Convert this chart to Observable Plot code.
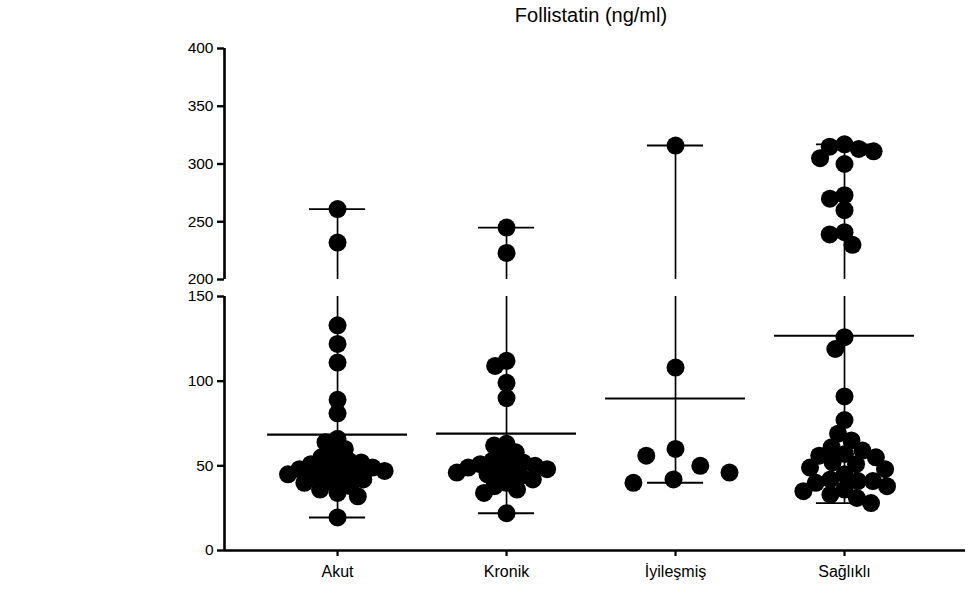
<!DOCTYPE html>
<html><head><meta charset="utf-8">
<script src="https://cdn.jsdelivr.net/npm/d3@7"></script>
<script src="https://cdn.jsdelivr.net/npm/@observablehq/plot@0.6"></script>
<style>
body{margin:0;background:#fff;font-family:"Liberation Sans",Arial,sans-serif;}
#wrap{position:relative;width:979px;height:603px;overflow:hidden;}
#title{position:absolute;left:591px;top:0;transform:translateX(-50%);height:30px;line-height:30px;font-size:20px;white-space:nowrap;color:#000;}
#chart{position:absolute;left:0;top:30px;}
</style></head><body>
<div id="wrap"><div id="title">Follistatin (ng/ml)</div><div id="chart"></div></div>
<script>
// ---- data (ng/ml) ----
const categories = ["Akut", "Kronik", "İyileşmiş", "Sağlıklı"];
const akut = [261, 232, 133, 122, 111, 89, 81, 66, 64, 60, 57, 55, 53, 52, 51, 50, 49, 48, 48, 47, 46, 45, 44, 43, 42, 41, 40, 38, 36, 34, 32, 19.5];
const kronik = [245, 223, 112, 109, 99, 90, 63, 62, 58, 55, 53, 52, 51, 50, 49, 49, 48, 47, 46, 45, 44, 42, 40, 38, 36, 34, 22];
const iyilesmis = [316, 108, 60, 56, 50, 46, 42, 40];
const saglikli = [317, 315, 313, 311, 305, 300, 273, 270, 260, 241, 239, 230, 126, 119, 91, 77, 69, 65, 61, 59, 57, 56, 55, 52, 51, 49, 48, 45, 42, 41, 41, 40, 38, 36, 35, 33, 31, 28];
const lowerTicks = [0, 50, 100, 150];
const upperTicks = [200, 250, 300, 350, 400];
const breakLow = 150, breakHigh = 200;

// ---- scales ----
const xOpts = {type: "linear", domain: [0.331, 4.716], range: [224, 965]};
const yOpts = {type: "linear", domain: [0, breakLow, breakHigh, 400], range: [520, 266, 249, 18]};
const xs = Plot.scale({x: xOpts});
const ys = Plot.scale({y: yOpts});

const groups = [akut, kronik, iyilesmis, saglikli];
const swarmSpacing = [12.5, 12.5, 30, 15]; // px, per group

// beeswarm layout (pixel offsets from each category centre)
function swarm(values, xi, d) {
  const pts = values.map(v => ({v, py: ys.apply(v), off: 0}));
  const order = pts.slice().sort((a, b) => a.py - b.py);
  const placed = [];
  for (const p of order) {
    const near = placed.filter(q => Math.abs(q.py - p.py) < d);
    const cands = [0];
    for (const q of near) {
      const dx = Math.sqrt(d * d - (q.py - p.py) ** 2);
      cands.push(q.off + dx, q.off - dx);
    }
    cands.sort((a, b) => Math.abs(a) - Math.abs(b) || a - b);
    for (const c of cands) {
      if (near.every(q => (q.off - c) ** 2 + (q.py - p.py) ** 2 >= d * d - 1e-6)) { p.off = c; break; }
    }
    placed.push(p);
  }
  const cx = xs.apply(xi);
  return pts.map(p => ({category: categories[xi - 1], value: p.v, x: xs.invert(cx + p.off)}));
}

const points = groups.flatMap((g, i) => swarm(g, i + 1, swarmSpacing[i]));
const summary = groups.map((g, i) => ({xi: i + 1, mean: d3.mean(g), min: d3.min(g), max: d3.max(g)}));
const segments = summary.flatMap(s => {
  const out = [];
  out.push({xi: s.xi, y1: s.min, y2: Math.min(s.max, breakLow)});
  if (s.max > breakHigh) out.push({xi: s.xi, y1: breakHigh, y2: s.max});
  return out;
});
const axisSegments = [{y1: 0, y2: breakLow}, {y1: breakHigh, y2: 400}];

const meanHalf = 0.414, capHalf = 0.166;

const chart = Plot.plot({
  width: 979, height: 573,
  marginLeft: 224, marginRight: 14, marginTop: 18, marginBottom: 53,
  style: {fontFamily: "Liberation Sans, Arial, sans-serif", color: "black", background: "white"},
  x: xOpts,
  y: yOpts,
  marks: [
    Plot.ruleY([0], {stroke: "black", strokeWidth: 2.6}),
    Plot.ruleX(axisSegments, {x: () => xOpts.domain[0], y1: "y1", y2: "y2", stroke: "black", strokeWidth: 2.6}),
    Plot.axisY(lowerTicks, {tickSize: 7, tickPadding: 4, fontSize: 15.5, strokeWidth: 2.4, label: null}),
    Plot.axisY(upperTicks, {tickSize: 7, tickPadding: 4, fontSize: 15.5, strokeWidth: 2.4, label: null}),
    Plot.axisX([1, 2, 3, 4], {tickFormat: i => categories[i - 1], tickSize: 6, tickPadding: 9, fontSize: 16, strokeWidth: 2.2, label: null}),
    Plot.ruleX(segments, {x: "xi", y1: "y1", y2: "y2", stroke: "black", strokeWidth: 1.7}),
    Plot.ruleY(summary, {y: "min", x1: d => d.xi - capHalf, x2: d => d.xi + capHalf, stroke: "black", strokeWidth: 1.8}),
    Plot.ruleY(summary, {y: "max", x1: d => d.xi - capHalf, x2: d => d.xi + capHalf, stroke: "black", strokeWidth: 1.8}),
    Plot.ruleY(summary, {y: "mean", x1: d => d.xi - meanHalf, x2: d => d.xi + meanHalf, stroke: "black", strokeWidth: 2.2}),
    Plot.dot(points, {x: "x", y: "value", r: 9, fill: "black", stroke: "none"})
  ]
});
document.getElementById("chart").appendChild(chart);
</script>
</body></html>
